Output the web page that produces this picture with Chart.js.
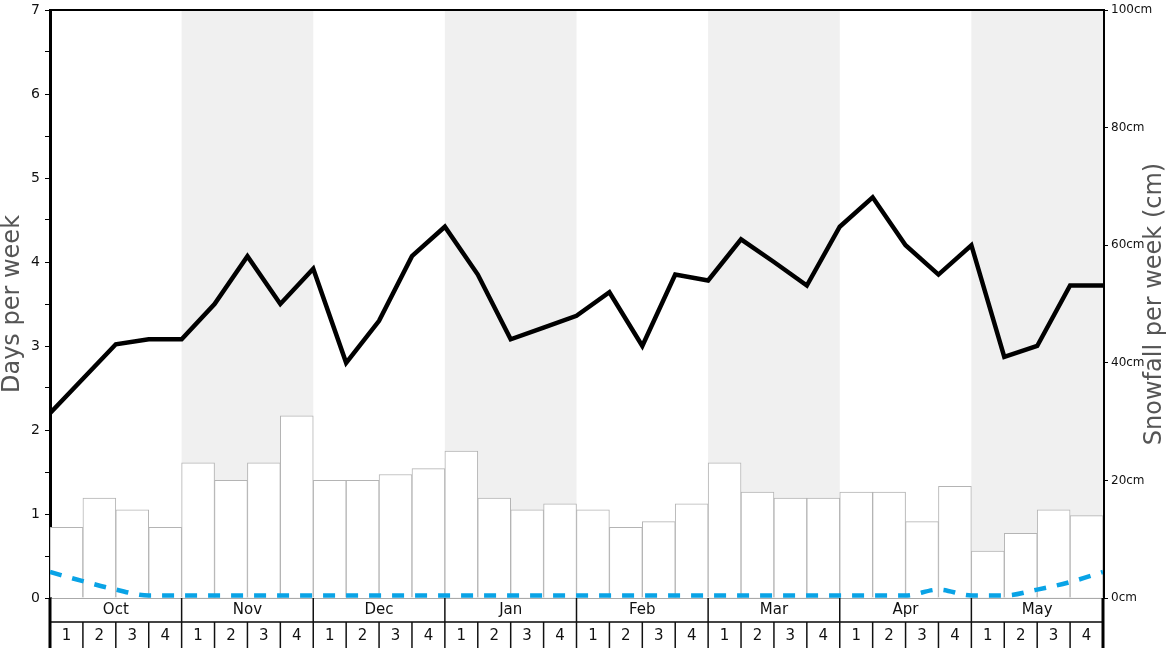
<!DOCTYPE html>
<html>
<head>
<script src="https://cdn.jsdelivr.net/npm/chart.js"></script>
<style>
  html, body { margin: 0; padding: 0; background: #fff; }
</style>
</head>
<body>
<canvas id="chart" width="1168" height="648"></canvas>
<script>
// months across the bottom, four weeks each
const months = ['Oct', 'Nov', 'Dec', 'Jan', 'Feb', 'Mar', 'Apr', 'May'];
const weekNums = ['1', '2', '3', '4'];
const weekLabels = [];
months.forEach(m => weekNums.forEach(w => weekLabels.push(m + ' ' + w)));

// weekly snowfall (cm) - the white bars, right axis
const snowfallCm = [12, 17, 15, 12, 23, 20, 23, 31,
                    20, 20, 21, 22, 25, 17, 15, 16,
                    15, 12, 13, 16, 23, 18, 17, 17,
                    18, 18, 13, 19, 8, 11, 15, 14];

// black line, days per week, read at the week boundaries (33 points)
const snowDays = [2.2, 2.61, 3.02, 3.08, 3.08, 3.5, 4.07, 3.5, 3.92,
                  2.8, 3.3, 4.07, 4.42, 3.85, 3.08, 3.22, 3.36,
                  3.64, 3.0, 3.85, 3.78, 4.27, 4.0, 3.72, 4.42,
                  4.77, 4.2, 3.85, 4.2, 2.87, 3.0, 3.72, 3.72];

// blue dashed line, days per week, same boundaries
const lowDays = [0.31, 0.2, 0.1, 0.03, 0.03, 0.03, 0.03, 0.03, 0.03,
                 0.03, 0.03, 0.03, 0.03, 0.03, 0.03, 0.03, 0.03,
                 0.03, 0.03, 0.03, 0.03, 0.03, 0.03, 0.03, 0.03,
                 0.03, 0.03, 0.1, 0.03, 0.03, 0.1, 0.19, 0.31];

const FONT = 'DejaVu Sans';

// the month shading, the week table under the plot and the two titles
const frame = {
  id: 'frame',
  beforeDatasetsDraw(chart) {
    const { ctx, chartArea: a } = chart;
    const xs = chart.scales.xl;
    ctx.save();
    ctx.fillStyle = '#f0f0f0';
    months.forEach((m, i) => {
      if (i % 2 === 1) {
        const x0 = xs.getPixelForValue(i * 4);
        const x1 = xs.getPixelForValue(i * 4 + 4);
        ctx.fillRect(x0, a.top, x1 - x0, a.bottom - a.top);
      }
    });
    ctx.restore();
  },
  afterDraw(chart) {
    const { ctx, chartArea: a } = chart;
    const xs = chart.scales.xl;
    const rowMid = a.bottom + 24;
    const bottom = chart.height;
    ctx.save();

    // zero line
    ctx.strokeStyle = '#aaa';
    ctx.lineWidth = 1;
    ctx.beginPath();
    ctx.moveTo(a.left, a.bottom + 0.5);
    ctx.lineTo(a.right, a.bottom + 0.5);
    ctx.stroke();

    // line between month row and week row
    ctx.strokeStyle = '#444';
    ctx.lineWidth = 2;
    ctx.beginPath();
    ctx.moveTo(a.left, rowMid);
    ctx.lineTo(a.right, rowMid);
    ctx.stroke();

    // top border
    ctx.strokeStyle = '#000';
    ctx.beginPath();
    ctx.moveTo(a.left, a.top);
    ctx.lineTo(a.right, a.top);
    ctx.stroke();

    ctx.lineWidth = 1.5;
    ctx.strokeStyle = '#111';
    ctx.fillStyle = '#111';
    ctx.font = '15px ' + FONT;
    ctx.textAlign = 'center';
    ctx.textBaseline = 'middle';
    months.forEach((m, i) => {
      const x0 = xs.getPixelForValue(i * 4);
      const x1 = xs.getPixelForValue(i * 4 + 4);
      if (i > 0) {
        ctx.beginPath();
        ctx.moveTo(x0, a.bottom);
        ctx.lineTo(x0, rowMid);
        ctx.stroke();
      }
      ctx.fillText(m, (x0 + x1) / 2, a.bottom + 12);
      weekNums.forEach((w, j) => {
        const w0 = xs.getPixelForValue(i * 4 + j);
        const w1 = xs.getPixelForValue(i * 4 + j + 1);
        if (i + j > 0) {
          ctx.beginPath();
          ctx.moveTo(w0, rowMid);
          ctx.lineTo(w0, bottom);
          ctx.stroke();
        }
        ctx.fillText(w, (w0 + w1) / 2, rowMid + 14);
      });
    });

    // axis lines carried down through the table
    ctx.lineWidth = 3;
    ctx.strokeStyle = '#000';
    ctx.beginPath();
    ctx.moveTo(a.left, a.bottom);
    ctx.lineTo(a.left, bottom);
    ctx.moveTo(a.right, a.bottom);
    ctx.lineTo(a.right, bottom);
    ctx.stroke();

    // axis titles, both reading bottom to top
    ctx.fillStyle = '#555';
    ctx.font = '24px ' + FONT;
    const midY = (a.top + a.bottom) / 2;
    ctx.translate(13, midY);
    ctx.rotate(-Math.PI / 2);
    ctx.fillText('Days per week', 0, 0);
    ctx.rotate(Math.PI / 2);
    ctx.translate(1155 - 13, 0);
    ctx.rotate(-Math.PI / 2);
    ctx.fillText('Snowfall per week (cm)', 0, 0);
    ctx.restore();
  }
};

// keep the plot box fixed: 50px left axis, 65px right axis, no label padding
function fitLeft(s) { s.width = 50; s.paddingTop = 0; s.paddingBottom = 0; }
function fitRight(s) { s.width = 65; s.paddingTop = 0; s.paddingBottom = 0; }

new Chart(document.getElementById('chart'), {
  type: 'bar',
  data: {
    labels: weekLabels,
    datasets: [
      {
        type: 'line',
        label: 'Snow days',
        data: snowDays.map((v, i) => ({ x: i, y: v })),
        xAxisID: 'xl',
        yAxisID: 'y',
        borderColor: '#000',
        borderWidth: 4.5,
        pointRadius: 0,
        tension: 0,
        order: 1
      },
      {
        type: 'line',
        label: 'Low',
        data: lowDays.map((v, i) => ({ x: i, y: v })),
        xAxisID: 'xl',
        yAxisID: 'y',
        borderColor: '#09a3e6',
        borderWidth: 4.5,
        borderDash: [12, 11],
        pointRadius: 0,
        cubicInterpolationMode: 'monotone',
        order: 2
      },
      {
        label: 'Snowfall',
        data: snowfallCm,
        xAxisID: 'x',
        yAxisID: 'y2',
        backgroundColor: '#fff',
        borderColor: '#b4b4b4',
        borderWidth: 1,
        barPercentage: 1,
        categoryPercentage: 1,
        grouped: false,
        order: 3
      }
    ]
  },
  options: {
    responsive: false,
    animation: false,
    layout: { padding: { top: 10, bottom: 50, left: 0, right: 0 } },
    plugins: { legend: { display: false }, tooltip: { enabled: false } },
    scales: {
      x: { display: false, offset: true },
      xl: { type: 'linear', display: false, min: 0, max: 32, offset: false },
      y: {
        position: 'left',
        min: 0,
        max: 7,
        afterFit: fitLeft,
        border: { color: '#000', width: 3 },
        grid: { drawOnChartArea: false, color: '#000', tickLength: 5 },
        ticks: {
          stepSize: 0.5,
          padding: 5,
          color: '#111',
          font: { family: FONT, size: 14 },
          callback: v => (Number.isInteger(v) ? String(v) : '')
        }
      },
      y2: {
        position: 'right',
        min: 0,
        max: 100,
        afterFit: fitRight,
        border: { color: '#000', width: 3 },
        grid: { drawOnChartArea: false, color: '#000', tickLength: 5 },
        ticks: {
          stepSize: 20,
          padding: 3,
          color: '#111',
          font: { family: FONT, size: 12 },
          callback: v => v + 'cm'
        }
      }
    }
  },
  plugins: [frame]
});
</script>
</body>
</html>
